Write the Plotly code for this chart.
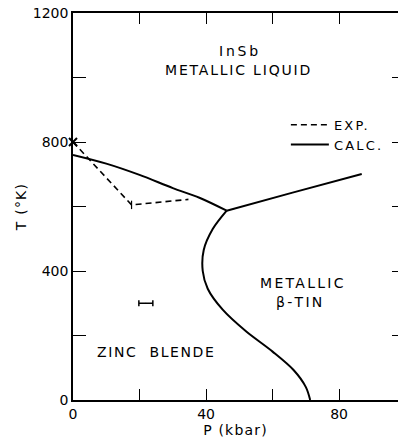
import plotly.graph_objects as go

# Data (P in kbar, T in K)
exp_P = [0, 17.6, 34.7]
exp_T = [800, 605, 622]

calc_liq_zb_P = [0, 10, 20, 30, 38, 46.2]
calc_liq_zb_T = [760, 733, 698, 657, 627, 587]

calc_liq_tin_P = [46.2, 66, 86.8]
calc_liq_tin_T = [587, 643, 701]

calc_zb_tin_P = [46.2, 42.0, 39.3, 39.0, 40.5, 45.0, 52.0, 60.0, 66.3, 70.0, 71.3]
calc_zb_tin_T = [587, 530, 465, 400, 345, 280, 213, 150, 93, 40, 0]

melt_point_P = [0]
melt_point_T = [800]

errbar_P = [21.9]
errbar_T = [300]
errbar_dP = [2.1]

x_tickvals = [0, 20, 40, 60, 80]
x_ticktext = ["0", "", "40", "", "80"]
y_tickvals = [0, 200, 400, 600, 800, 1000, 1200]
y_ticktext = ["0", "", "400", "", "800", "", "1200"]

FONT = "DejaVu Sans"


def spaced(s, px=1.6):
    return '<span style="letter-spacing:%spx">%s</span>' % (px, s)


fig = go.Figure()

fig.add_trace(go.Scatter(
    x=exp_P, y=exp_T, mode="lines", name=spaced("EXP.", 2.2),
    line=dict(color="black", width=1.6, dash="6px,4px"),
))
fig.add_trace(go.Scatter(
    x=calc_liq_zb_P + [None] + calc_liq_tin_P + [None] + calc_zb_tin_P,
    y=calc_liq_zb_T + [None] + calc_liq_tin_T + [None] + calc_zb_tin_T,
    mode="lines", name=spaced("CALC.", 2.2),
    line=dict(color="black", width=2, shape="spline", smoothing=0.9),
    connectgaps=False,
))
fig.add_trace(go.Scatter(
    x=melt_point_P, y=melt_point_T, mode="markers", showlegend=False,
    marker=dict(symbol="x-thin", size=8, line=dict(color="black", width=2)),
    cliponaxis=False,
))
fig.add_trace(go.Scatter(
    x=exp_P[1:2], y=exp_T[1:2], mode="markers", showlegend=False,
    marker=dict(symbol="line-ns", size=6, line=dict(color="black", width=1.2)),
))
fig.add_trace(go.Scatter(
    x=errbar_P, y=errbar_T, mode="markers", showlegend=False,
    marker=dict(size=1, color="black"),
    error_x=dict(type="data", array=errbar_dP, color="black", thickness=1.5, width=3),
))
# invisible trace for the right-hand tick axis
fig.add_trace(go.Scatter(x=[None], y=[None], yaxis="y2", showlegend=False, hoverinfo="skip"))

annotations = [
    dict(x=50.2, y=1082, text=spaced("InSb", 2.8)),
    dict(x=49.8, y=1023, text=spaced("METALLIC LIQUID", 1.8)),
    dict(x=69, y=363, text=spaced("METALLIC", 2.3)),
    dict(x=68.5, y=304, text=spaced("β-TIN", 2.3)),
    dict(x=25, y=149, text=spaced("ZINC  BLENDE", 1.6)),
]
for a in annotations:
    a.update(xref="x", yref="y", showarrow=False,
             font=dict(family=FONT, size=14, color="black"))

fig.update_layout(
    width=398, height=442,
    margin=dict(l=73, r=0, t=13, b=42),
    paper_bgcolor="white", plot_bgcolor="white",
    font=dict(family=FONT, size=14, color="black"),
    showlegend=True,
    legend=dict(x=0.655, y=0.75, xanchor="left", yanchor="top",
                bgcolor="rgba(0,0,0,0)", borderwidth=0,
                font=dict(family=FONT, size=13, color="black"),
                itemwidth=38, tracegroupgap=0),
    annotations=annotations,
    xaxis=dict(
        range=[0, 97.7], tickvals=x_tickvals, ticktext=x_ticktext,
        ticks="inside", ticklen=11, tickwidth=1.2, tickcolor="black",
        showline=True, linecolor="black", linewidth=1.5, mirror="ticks",
        showgrid=False, zeroline=False,
        title=dict(text=spaced("P (kbar)", 1.2), standoff=2, font=dict(size=14)),
        tickfont=dict(size=14),
    ),
    yaxis=dict(
        range=[0, 1200], tickvals=y_tickvals, ticktext=y_ticktext,
        ticks="inside", ticklen=13, tickwidth=1.2, tickcolor="black",
        showline=True, linecolor="black", linewidth=1.5, mirror=False,
        showgrid=False, zeroline=False,
        title=dict(text=spaced("T (°K)", 1.2), standoff=3, font=dict(size=14)),
        tickfont=dict(size=14),
    ),
    yaxis2=dict(
        range=[0, 1200], overlaying="y", side="right", tickvals=y_tickvals,
        showticklabels=False, ticks="inside", ticklen=6, tickwidth=1.2,
        tickcolor="black", showline=False, showgrid=False, zeroline=False,
    ),
)

fig.write_html("out.html")
